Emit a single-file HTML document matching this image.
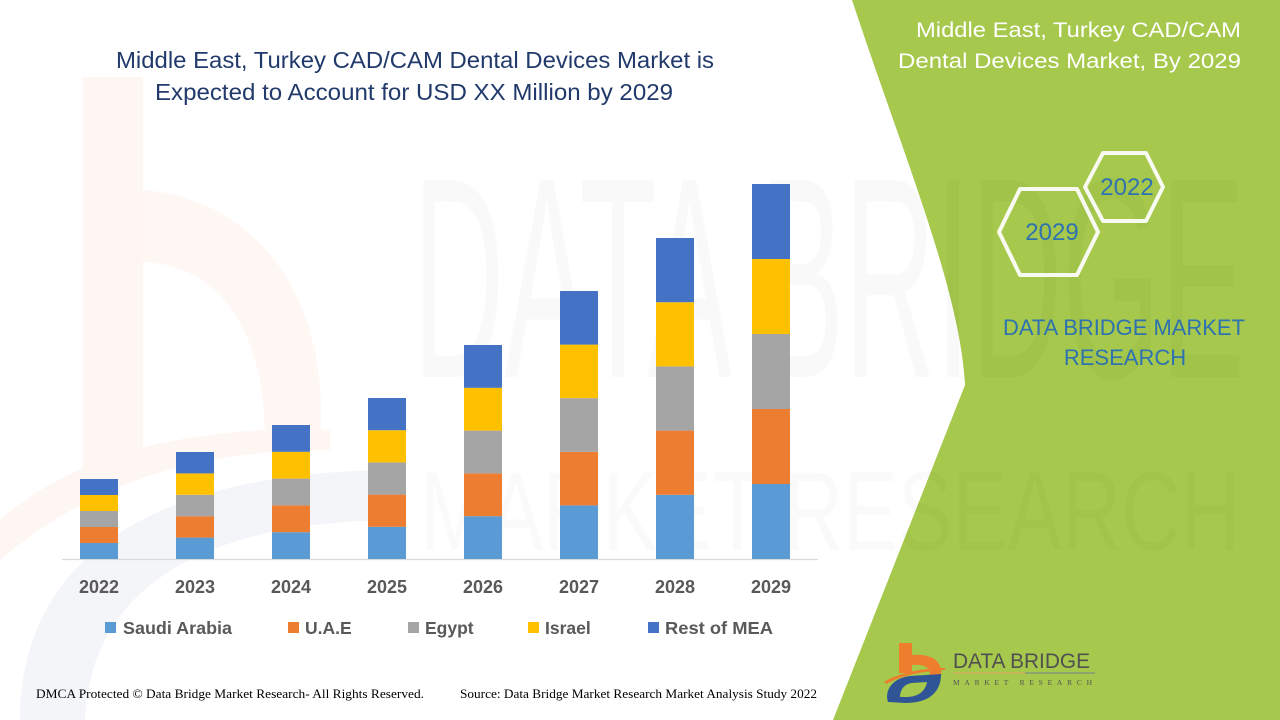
<!DOCTYPE html>
<html>
<head>
<meta charset="utf-8">
<style>
html,body{margin:0;padding:0;background:#fff;}
svg{display:block;}
</style>
</head>
<body>
<svg width="1280" height="720" viewBox="0 0 1280 720" xmlns="http://www.w3.org/2000/svg">
  <defs>
    <clipPath id="gclip"><path d="M852,0 C905,160 960,290 965,385 L833,720 L1280,720 L1280,0 Z"/></clipPath>
  </defs>
  <rect x="0" y="0" width="1280" height="720" fill="#ffffff"/>

  <!-- faint left watermark logo -->
  <g>
    <rect x="83" y="77" width="60" height="400" fill="#fef6f2"/>
    <path d="M143,190 C260,200 330,300 320,440 L265,440 C265,330 220,265 143,262 Z" fill="#fef7f3"/>
    <path d="M0,520 C80,450 200,425 330,430 L330,450 C210,450 100,475 0,560 Z" fill="#fef6f2"/>
    <path d="M20,720 C20,560 150,470 400,470 L400,520 C200,520 90,590 85,720 Z" fill="#f3f5f9"/>
  </g>

  <!-- big watermark text -->
  <text x="413" y="377" font-family="Liberation Sans, sans-serif" font-size="286" fill="#000" fill-opacity="0.022" textLength="832" lengthAdjust="spacingAndGlyphs">DATA BRIDGE</text>
  <text x="420" y="550" font-family="Liberation Sans, sans-serif" font-size="112" fill="#000" fill-opacity="0.018" textLength="820" lengthAdjust="spacingAndGlyphs">MARKET RESEARCH</text>

  <!-- green panel -->
  <path d="M852,0 C905,160 960,290 965,385 L833,720 L1280,720 L1280,0 Z" fill="#a6c84c"/>
  <g clip-path="url(#gclip)">
    <text x="413" y="377" font-family="Liberation Sans, sans-serif" font-size="286" fill="#000" fill-opacity="0.025" textLength="832" lengthAdjust="spacingAndGlyphs">DATA BRIDGE</text>
    <text x="420" y="550" font-family="Liberation Sans, sans-serif" font-size="112" fill="#000" fill-opacity="0.02" textLength="820" lengthAdjust="spacingAndGlyphs">MARKET RESEARCH</text>
  </g>

  <!-- main title -->
  <g font-family="Liberation Sans, sans-serif" font-size="23" fill="#213a6b">
    <text x="116" y="68" textLength="598" lengthAdjust="spacingAndGlyphs">Middle East, Turkey CAD/CAM Dental Devices Market is</text>
    <text x="155" y="100" textLength="518" lengthAdjust="spacingAndGlyphs">Expected to Account for USD XX Million by 2029</text>
  </g>

  <!-- right title -->
  <g font-family="Liberation Sans, sans-serif" font-size="21" fill="#ffffff" text-anchor="end">
    <text x="1241" y="37" textLength="325" lengthAdjust="spacingAndGlyphs">Middle East, Turkey CAD/CAM</text>
    <text x="1241" y="68" textLength="343" lengthAdjust="spacingAndGlyphs">Dental Devices Market, By 2029</text>
  </g>

  <!-- hexagons -->
  <g fill="none" stroke="#ffffff" stroke-width="4" stroke-linejoin="round" opacity="0.92">
    <polygon points="1085,187 1103,153 1146,153 1163,187 1146,221 1103,221"/>
    <polygon points="999,232 1020,189 1077,189 1098,232 1077,275 1020,275"/>
  </g>
  <g font-family="Liberation Sans, sans-serif" font-size="24" fill="#2e72b0" text-anchor="middle">
    <text x="1127" y="195">2022</text>
    <text x="1052" y="240">2029</text>
  </g>

  <g font-family="Liberation Sans, sans-serif" font-size="22" fill="#2e72b0">
    <text x="1003" y="335" textLength="242" lengthAdjust="spacingAndGlyphs">DATA BRIDGE MARKET</text>
    <text x="1125" y="365" text-anchor="middle">RESEARCH</text>
  </g>

  <!-- axis line -->
  <line x1="62" y1="559.5" x2="818" y2="559.5" stroke="#d9d9d9" stroke-width="1.2"/>

  <!-- bars -->
  <g>
    <rect x="80" y="543" width="38" height="16" fill="#5b9bd5"/>
    <rect x="80" y="527" width="38" height="16" fill="#ed7d31"/>
    <rect x="80" y="511" width="38" height="16" fill="#a5a5a5"/>
    <rect x="80" y="495" width="38" height="16" fill="#ffc000"/>
    <rect x="80" y="479" width="38" height="16" fill="#4472c4"/>

    <rect x="176" y="537.6" width="38" height="21.4" fill="#5b9bd5"/>
    <rect x="176" y="516.2" width="38" height="21.4" fill="#ed7d31"/>
    <rect x="176" y="494.8" width="38" height="21.4" fill="#a5a5a5"/>
    <rect x="176" y="473.4" width="38" height="21.4" fill="#ffc000"/>
    <rect x="176" y="452" width="38" height="21.4" fill="#4472c4"/>

    <rect x="272" y="532.2" width="38" height="26.8" fill="#5b9bd5"/>
    <rect x="272" y="505.4" width="38" height="26.8" fill="#ed7d31"/>
    <rect x="272" y="478.6" width="38" height="26.8" fill="#a5a5a5"/>
    <rect x="272" y="451.8" width="38" height="26.8" fill="#ffc000"/>
    <rect x="272" y="425" width="38" height="26.8" fill="#4472c4"/>

    <rect x="368" y="526.8" width="38" height="32.2" fill="#5b9bd5"/>
    <rect x="368" y="494.6" width="38" height="32.2" fill="#ed7d31"/>
    <rect x="368" y="462.4" width="38" height="32.2" fill="#a5a5a5"/>
    <rect x="368" y="430.2" width="38" height="32.2" fill="#ffc000"/>
    <rect x="368" y="398" width="38" height="32.2" fill="#4472c4"/>

    <rect x="464" y="516.2" width="38" height="42.8" fill="#5b9bd5"/>
    <rect x="464" y="473.4" width="38" height="42.8" fill="#ed7d31"/>
    <rect x="464" y="430.6" width="38" height="42.8" fill="#a5a5a5"/>
    <rect x="464" y="387.8" width="38" height="42.8" fill="#ffc000"/>
    <rect x="464" y="345" width="38" height="42.8" fill="#4472c4"/>

    <rect x="560" y="505.4" width="38" height="53.6" fill="#5b9bd5"/>
    <rect x="560" y="451.8" width="38" height="53.6" fill="#ed7d31"/>
    <rect x="560" y="398.2" width="38" height="53.6" fill="#a5a5a5"/>
    <rect x="560" y="344.6" width="38" height="53.6" fill="#ffc000"/>
    <rect x="560" y="291" width="38" height="53.6" fill="#4472c4"/>

    <rect x="656" y="494.8" width="38" height="64.2" fill="#5b9bd5"/>
    <rect x="656" y="430.6" width="38" height="64.2" fill="#ed7d31"/>
    <rect x="656" y="366.4" width="38" height="64.2" fill="#a5a5a5"/>
    <rect x="656" y="302.2" width="38" height="64.2" fill="#ffc000"/>
    <rect x="656" y="238" width="38" height="64.2" fill="#4472c4"/>

    <rect x="752" y="484" width="38" height="75" fill="#5b9bd5"/>
    <rect x="752" y="409" width="38" height="75" fill="#ed7d31"/>
    <rect x="752" y="334" width="38" height="75" fill="#a5a5a5"/>
    <rect x="752" y="259" width="38" height="75" fill="#ffc000"/>
    <rect x="752" y="184" width="38" height="75" fill="#4472c4"/>
  </g>

  <!-- axis labels -->
  <g font-family="Liberation Sans, sans-serif" font-size="18" font-weight="bold" fill="#595959" text-anchor="middle">
    <text x="99" y="593">2022</text>
    <text x="195" y="593">2023</text>
    <text x="291" y="593">2024</text>
    <text x="387" y="593">2025</text>
    <text x="483" y="593">2026</text>
    <text x="579" y="593">2027</text>
    <text x="675" y="593">2028</text>
    <text x="771" y="593">2029</text>
  </g>

  <!-- legend -->
  <rect x="105" y="622" width="11" height="11" fill="#5b9bd5"/>
  <rect x="288" y="622" width="11" height="11" fill="#ed7d31"/>
  <rect x="408" y="622" width="11" height="11" fill="#a5a5a5"/>
  <rect x="528" y="622" width="11" height="11" fill="#ffc000"/>
  <rect x="648" y="622" width="11" height="11" fill="#4472c4"/>
  <g font-family="Liberation Sans, sans-serif" font-size="17.5" font-weight="bold" fill="#595959">
    <text x="123" y="634" textLength="109" lengthAdjust="spacingAndGlyphs">Saudi Arabia</text>
    <text x="305" y="634">U.A.E</text>
    <text x="425" y="634">Egypt</text>
    <text x="545" y="634">Israel</text>
    <text x="665" y="634" textLength="108" lengthAdjust="spacingAndGlyphs">Rest of MEA</text>
  </g>

  <!-- footer -->
  <g font-family="Liberation Serif, serif" font-size="12.5" fill="#000">
    <text x="36" y="698" textLength="388" lengthAdjust="spacingAndGlyphs">DMCA Protected © Data Bridge  Market Research- All Rights Reserved.</text>
    <text x="460" y="698" textLength="357" lengthAdjust="spacingAndGlyphs">Source: Data Bridge Market Research Market Analysis Study 2022</text>
  </g>

  <!-- bottom logo -->
  <g>
    <rect x="899" y="643" width="13" height="30" fill="#ef7d2e"/>
    <path d="M912,655 C932,653 943,662 941,675 L930,675 C930,667 924,664 912,665 Z" fill="#ef7d2e"/>
    <path d="M884,682 C900,672 925,668 945,668 L945,670 C925,671 902,675 886,684 Z" fill="#ef7d2e"/>
    <path d="M888,702 C884,690 893,678 910,676 L941,674 C941,693 928,703 905,703 Z" fill="#2f5597"/>
    <path d="M900,697 C900,690 904,684 912,683 L927,682 C925,692 918,697 905,697 Z" fill="#a6c84c"/>
    <text x="953" y="668" font-family="Liberation Sans, sans-serif" font-size="21" fill="#505050" textLength="137" lengthAdjust="spacingAndGlyphs">DATA BRIDGE</text>
    <line x1="953" y1="673" x2="1025" y2="673" stroke="#e8a060" stroke-width="1"/>
    <line x1="1025" y1="673" x2="1095" y2="673" stroke="#6f7f8f" stroke-width="1"/>
    <text x="953" y="685" font-family="Liberation Serif, serif" font-size="7.5" fill="#555" textLength="139" lengthAdjust="spacing">MARKET  RESEARCH</text>
  </g>
</svg>
</body>
</html>
